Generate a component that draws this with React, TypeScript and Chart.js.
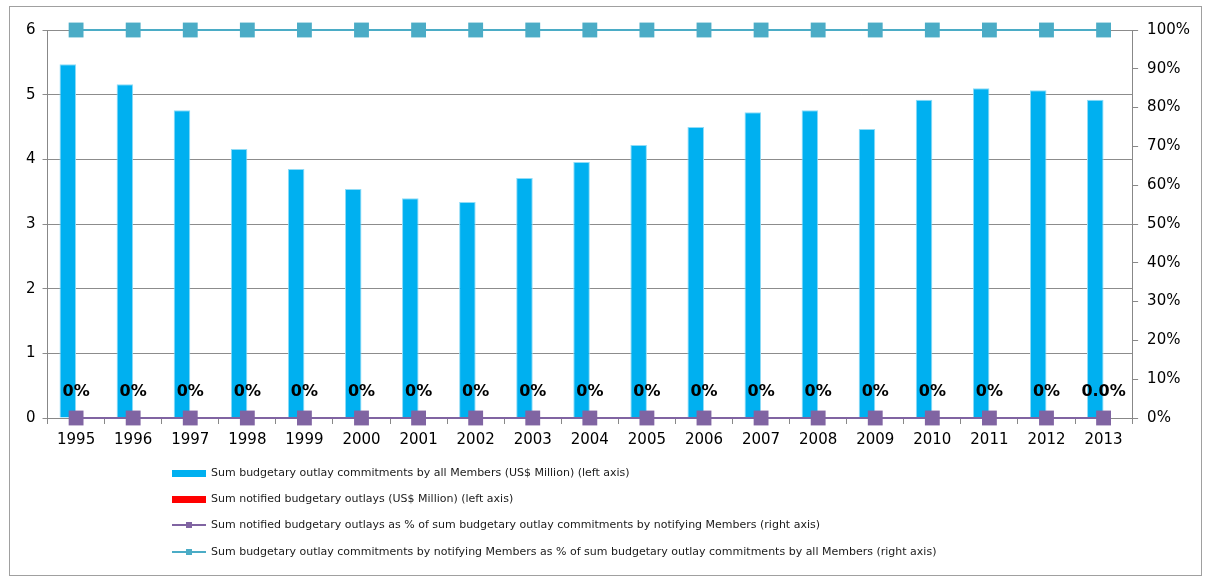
import { useEffect, useRef } from "react";
import { Chart, registerables } from "chart.js";
Chart.register(...registerables);

const years = ["1995","1996","1997","1998","1999","2000","2001","2002","2003","2004","2005","2006","2007","2008","2009","2010","2011","2012","2013"];
const commitmentsAll = [5.47, 5.16, 4.76, 4.16, 3.85, 3.54, 3.40, 3.34, 3.71, 3.96, 4.22, 4.50, 4.73, 4.76, 4.47, 4.92, 5.10, 5.07, 4.92];
const notifiedOutlays = [0, 0, 0, 0, 0, 0, 0, 0, 0, 0, 0, 0, 0, 0, 0, 0, 0, 0, 0];
const notifiedPct = [0, 0, 0, 0, 0, 0, 0, 0, 0, 0, 0, 0, 0, 0, 0, 0, 0, 0, 0];
const notifyingPct = [1, 1, 1, 1, 1, 1, 1, 1, 1, 1, 1, 1, 1, 1, 1, 1, 1, 1, 1];
const pctLabels = ["0%","0%","0%","0%","0%","0%","0%","0%","0%","0%","0%","0%","0%","0%","0%","0%","0%","0%","0.0%"];
const legendLabels = [
  "Sum budgetary outlay commitments by all Members (US$ Million) (left axis)",
  "Sum notified budgetary outlays (US$ Million) (left axis)",
  "Sum notified budgetary outlays as % of sum budgetary outlay commitments by notifying Members (right axis)",
  "Sum budgetary outlay commitments by notifying Members as % of sum budgetary outlay commitments by all Members (right axis)",
];

const BLUE = "#00B0F0";
const RED = "#FF0000";
const PURPLE = "#8064A2";
const TEAL = "#4BACC6";
const FONT = "'DejaVu Sans', Verdana, sans-serif";

const framePlugin = {
  id: "frame",
  beforeDraw(chart: any) {
    const ctx = chart.ctx;
    ctx.save();
    ctx.fillStyle = "#ffffff";
    ctx.fillRect(0, 0, chart.width, chart.height);
    ctx.strokeStyle = "#a0a0a0";
    ctx.lineWidth = 1;
    ctx.strokeRect(9.5, 6.5, 1192, 569);
    ctx.restore();
  },
};

const labelPlugin = {
  id: "pctLabels",
  afterDatasetsDraw(chart: any) {
    const ctx = chart.ctx;
    const x = chart.scales.x;
    const y = chart.scales.y;
    ctx.save();
    ctx.font = `bold 16px ${FONT}`;
    ctx.fillStyle = "#000000";
    ctx.textAlign = "center";
    ctx.textBaseline = "middle";
    pctLabels.forEach((t, i) => {
      ctx.fillText(t, x.getPixelForValue(i), y.getPixelForValue(0) - 26);
    });
    ctx.restore();
  },
};

const legendPlugin = {
  id: "customLegend",
  afterDraw(chart: any) {
    const ctx = chart.ctx;
    const x0 = 172;
    const x1 = 206;
    const rows = [473, 499, 525, 552];
    ctx.save();
    ctx.font = `11px ${FONT}`;
    ctx.textBaseline = "middle";
    ctx.textAlign = "left";
    legendLabels.forEach((label, i) => {
      const yy = rows[i];
      const ds = chart.data.datasets[i];
      if (ds.type === "bar" || !ds.type) {
        ctx.fillStyle = ds.backgroundColor;
        ctx.fillRect(x0, yy - 3, x1 - x0, 7);
      } else {
        ctx.strokeStyle = ds.borderColor;
        ctx.lineWidth = 2;
        ctx.beginPath();
        ctx.moveTo(x0, yy);
        ctx.lineTo(x1, yy);
        ctx.stroke();
        ctx.fillStyle = ds.pointBackgroundColor;
        ctx.fillRect((x0 + x1) / 2 - 3, yy - 3, 6, 6);
      }
      ctx.fillStyle = "#1a1a1a";
      ctx.fillText(label, x1 + 5, yy);
    });
    ctx.restore();
  },
};

export default function App() {
  const ref = useRef<HTMLCanvasElement | null>(null);
  useEffect(() => {
    if (!ref.current) return;
    const chart = new Chart(ref.current, {
      type: "bar",
      data: {
        labels: years,
        datasets: [
          {
            type: "bar",
            label: legendLabels[0],
            data: commitmentsAll,
            backgroundColor: BLUE,
            borderColor: "#8fdcf7",
            borderWidth: 1,
            yAxisID: "y",
            order: 2,
            categoryPercentage: 0.58,
            barPercentage: 1,
          },
          {
            type: "bar",
            label: legendLabels[1],
            data: notifiedOutlays,
            backgroundColor: RED,
            borderWidth: 0,
            yAxisID: "y",
            order: 3,
            categoryPercentage: 0.58,
            barPercentage: 1,
          },
          {
            type: "line",
            label: legendLabels[2],
            data: notifiedPct,
            borderColor: PURPLE,
            borderWidth: 2,
            pointStyle: "rect",
            pointRadius: 10.5,
            pointBackgroundColor: PURPLE,
            pointBorderColor: PURPLE,
            pointBorderWidth: 0,
            yAxisID: "y1",
            order: 1,
            clip: false,
          } as any,
          {
            type: "line",
            label: legendLabels[3],
            data: notifyingPct,
            borderColor: TEAL,
            borderWidth: 2,
            pointStyle: "rect",
            pointRadius: 10.5,
            pointBackgroundColor: TEAL,
            pointBorderColor: TEAL,
            pointBorderWidth: 0,
            yAxisID: "y1",
            order: 0,
            clip: false,
          } as any,
        ],
      },
      options: {
        responsive: false,
        animation: false,
        layout: { padding: { top: 30, left: 19, right: 12, bottom: 121 } },
        plugins: {
          legend: { display: false },
          tooltip: { enabled: false },
        },
        scales: {
          x: {
            offset: true,
            grid: {
              offset: true,
              drawOnChartArea: false,
              drawTicks: true,
              tickLength: 6,
              color: "#888888",
            },
            border: { color: "#888888" },
            ticks: {
              color: "#000000",
              font: { family: FONT, size: 15 },
              padding: 7,
              maxRotation: 0,
              autoSkip: false,
            },
          },
          y: {
            position: "left",
            min: 0,
            max: 6,
            ticks: {
              stepSize: 1,
              color: "#000000",
              font: { family: FONT, size: 15 },
              padding: 7,
            },
            grid: { color: "#8c8c8c", tickLength: 5 },
            border: { color: "#888888" },
          },
          y1: {
            position: "right",
            min: 0,
            max: 1,
            ticks: {
              stepSize: 0.1,
              color: "#000000",
              font: { family: FONT, size: 15 },
              padding: 9,
              callback: (v: any) => `${Math.round(Number(v) * 100)}%`,
            },
            grid: { drawOnChartArea: false, color: "#888888", tickLength: 6 },
            border: { color: "#888888" },
          },
        },
      },
      plugins: [framePlugin, labelPlugin, legendPlugin],
    });
    return () => chart.destroy();
  }, []);
  return (
    <div style={{ position: "fixed", left: 0, top: 0, width: 1211, height: 577 }}>
      <canvas ref={ref} width={1211} height={577} style={{ width: 1211, height: 577, display: "block" }} />
    </div>
  );
}
